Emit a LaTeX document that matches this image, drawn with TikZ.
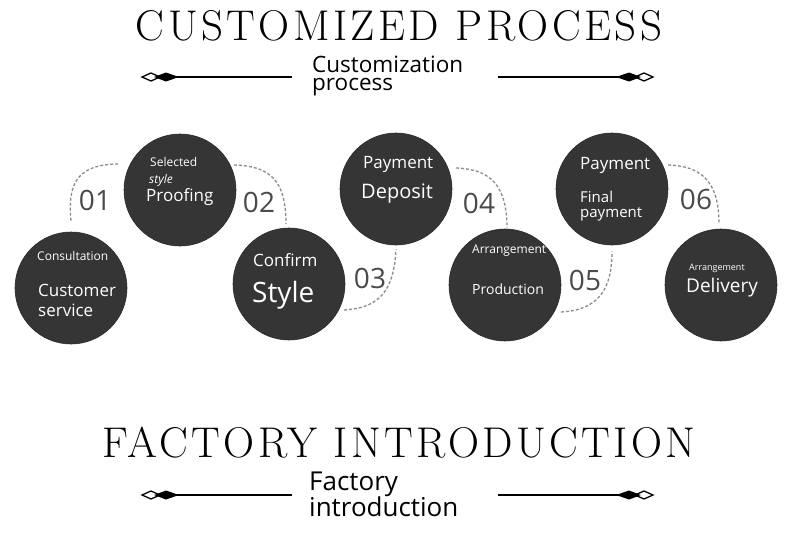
\documentclass[tikz,border=0pt]{standalone}
\usepackage{fontspec}
\setmainfont{Latin Modern Roman}
\setsansfont{Open Sans}
\begin{document}
\begin{tikzpicture}[x=1pt,y=-1pt,
  stepcirc/.style={circle,fill=circ,draw=circ!80!black,line width=0.6pt,minimum size=112pt,inner sep=0pt},
  wt/.style={text=white,font=\sffamily,anchor=west,inner sep=0pt},
  num/.style={text=numc,font=\sffamily\fontsize{28}{28}\selectfont,inner sep=0pt},
  dlink/.style={draw=dashc,dashed,dash pattern=on 3pt off 2pt,line width=1.3pt},
  title/.style={font=\fontsize{43}{43}\selectfont\addfontfeatures{LetterSpace=8},inner sep=0pt},
  sub/.style={font=\sffamily,anchor=west,inner sep=0pt,align=left},
  hl/.style={line width=1.4pt}]
\definecolor{circ}{HTML}{353535}
\definecolor{numc}{HTML}{4A4A4A}
\definecolor{dashc}{HTML}{8C8C8C}
\useasboundingbox[fill=white] (0,0) rectangle (790,549);

% titles
\node[title] (t1) at (399,26) {CUSTOMIZED PROCESS};
\node[title] (t2) at (399,443) {FACTORY INTRODUCTION};

% ornaments
\newcommand{\orn}[3]{% x y dir
  \begin{scope}[shift={(#1,#2)},xscale=#3]
    \draw[fill=white,line width=1.3pt] (-28,0) -- (-19,-4) -- (-10,0) -- (-19,4) -- cycle;
    \fill (-16,0) -- (-4,-4.5) -- (9,0) -- (-4,4.5) -- cycle;
  \end{scope}}
\coordinate (l1a) at (170,77); \coordinate (l1b) at (292,77);
\coordinate (r1a) at (498,77); \coordinate (r1b) at (625,77);
\draw[hl] (l1a) -- (l1b); \draw[hl] (r1a) -- (r1b);
\orn{170}{77}{1}\orn{625}{77}{-1}
\coordinate (l2a) at (170,495); \coordinate (l2b) at (292,495);
\coordinate (r2a) at (498,495); \coordinate (r2b) at (625,495);
\draw[hl] (l2a) -- (l2b); \draw[hl] (r2a) -- (r2b);
\orn{170}{495}{1}\orn{625}{495}{-1}

\node[sub,font=\sffamily\fontsize{22.5}{18.5}\selectfont] (s1) at (312,76) {Customization\\process};
\node[sub,font=\sffamily\fontsize{26}{26}\selectfont] (s2) at (309,494) {Factory\\introduction};

% circles
\node[stepcirc] (c1) at (71,288) {};
\node[stepcirc] (c2) at (180,190) {};
\node[stepcirc] (c3) at (289,284) {};
\node[stepcirc] (c4) at (396,189) {};
\node[stepcirc] (c5) at (505,285) {};
\node[stepcirc] (c6) at (612,189) {};
\node[stepcirc] (c7) at (721,285) {};

% texts
\node[wt,font=\sffamily\fontsize{12}{12}\selectfont] (a1) at (37,256) {Consultation};
\node[wt,font=\sffamily\fontsize{17}{17}\selectfont] (b1) at (38,290) {Customer};
\node[wt,font=\sffamily\fontsize{17}{17}\selectfont] (d1) at (38,310) {service};

\node[wt,font=\sffamily\fontsize{12}{12}\selectfont] (a2) at (150,162) {Selected};
\node[wt,font=\sffamily\itshape\fontsize{12}{12}\selectfont] (b2) at (149,180) {style};
\node[wt,font=\sffamily\fontsize{17}{17}\selectfont] (d2) at (146,197) {Proofing};

\node[wt,font=\sffamily\fontsize{17}{17}\selectfont] (a3) at (253,260) {Confirm};
\node[wt,font=\sffamily\fontsize{28}{28}\selectfont] (b3) at (252,295) {Style};

\node[wt,font=\sffamily\fontsize{17}{17}\selectfont] (a4) at (363,164) {Payment};
\node[wt,font=\sffamily\fontsize{20}{20}\selectfont] (b4) at (361,194) {Deposit};

\node[wt,font=\sffamily\fontsize{12}{12}\selectfont] (a5) at (472,251) {Arrangement};
\node[wt,font=\sffamily\fontsize{14}{14}\selectfont] (b5) at (472,289) {Production};

\node[wt,font=\sffamily\fontsize{17}{17}\selectfont] (a6) at (580,165) {Payment};
\node[wt,font=\sffamily\fontsize{15}{15}\selectfont] (b6) at (580,197) {Final};
\node[wt,font=\sffamily\fontsize{15}{15}\selectfont] (d6) at (580,214) {payment};

\node[wt,font=\sffamily\fontsize{9}{9}\selectfont] (a7) at (689,268) {Arrangement};
\node[wt,font=\sffamily\fontsize{19}{19}\selectfont] (b7) at (686,288) {Delivery};

% numbers
\node[num] (n1) at (95,200) {01};
\node[num] (n2) at (259,202) {02};
\node[num] (n3) at (370,278) {03};
\node[num] (n4) at (479,203) {04};
\node[num] (n5) at (585,280) {05};
\node[num] (n6) at (696,199) {06};

% dashed links
\draw[dlink] ([yshift=11pt]c1.north) .. controls (67,180) and (80,164) .. (120,164);
\draw[dlink] (234,165) .. controls (270,166) and (286,180) .. (286,224);
\draw[dlink] (344,310) .. controls (380,308) and (394,290) .. ([yshift=-4pt]c4.south);
\draw[dlink] (456,168) .. controls (490,169) and (507,185) .. (507,228);
\draw[dlink] (561,312) .. controls (598,310) and (612,290) .. ([yshift=-6pt]c6.south);
\draw[dlink] (668,165) .. controls (700,166) and (719,180) .. (719,224);
\end{tikzpicture}
\end{document}
